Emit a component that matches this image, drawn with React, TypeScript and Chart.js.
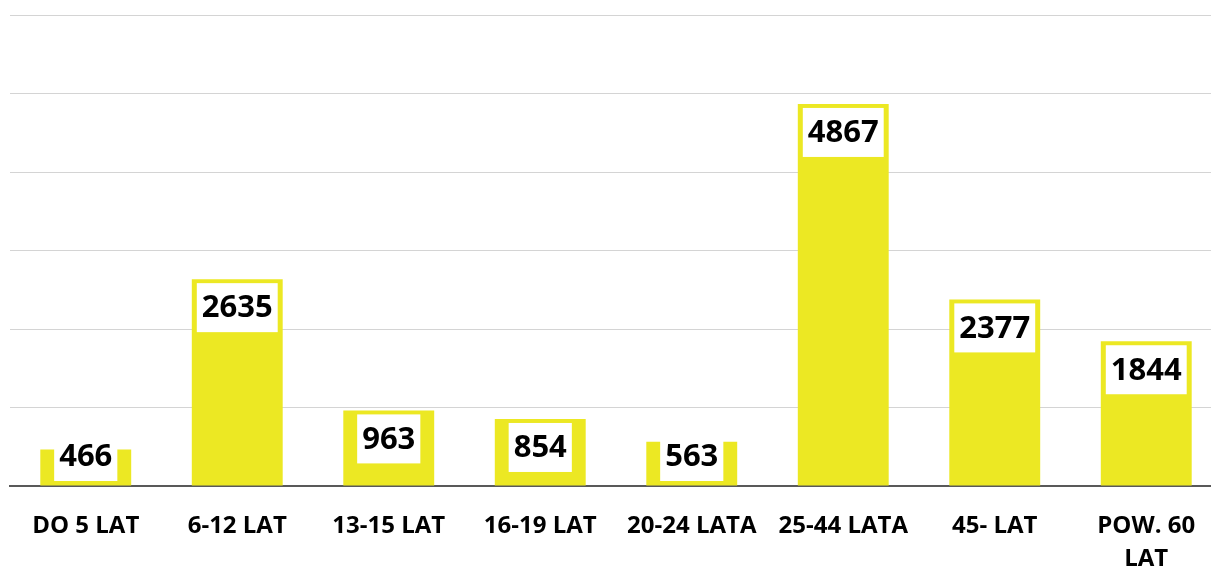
import React, { useEffect, useRef } from "react";
import { Chart, registerables } from "chart.js";

Chart.register(...registerables);

const categories: (string | string[])[] = [
  "DO 5 LAT",
  "6-12 LAT",
  "13-15 LAT",
  "16-19 LAT",
  "20-24 LATA",
  "25-44 LATA",
  "45- LAT",
  ["POW. 60", "LAT"],
];
const values: number[] = [466, 2635, 963, 854, 563, 4867, 2377, 1844];
const yMax = 6000;
const yStep = 1000;

const BAR_COLOR = "#ECE823";
const LABEL_FONT = "bold 31px 'Open Sans', Lato, sans-serif";

const valueBoxPlugin = {
  id: "valueBoxes",
  afterDatasetsDraw(chart: any) {
    const ctx = chart.ctx;
    const meta = chart.getDatasetMeta(0);
    const base = chart.scales.y.getPixelForValue(0);
    ctx.save();
    ctx.font = LABEL_FONT;
    meta.data.forEach((bar: any, i: number) => {
      const text = String(values[i]);
      const tw = ctx.measureText(text).width;
      const w = tw + 10;
      const h = 49;
      let top = bar.y + 4;
      if (top + h > base - 5) top = base - 5 - h;
      const left = bar.x - w / 2;
      ctx.fillStyle = "#ffffff";
      ctx.fillRect(left, top, w, h);
      ctx.fillStyle = "#000000";
      ctx.textAlign = "center";
      ctx.textBaseline = "middle";
      ctx.fillText(text, bar.x, top + h / 2 + 1);
    });
    ctx.restore();
  },
};

export default function App() {
  const ref = useRef<HTMLCanvasElement | null>(null);
  useEffect(() => {
    if (!ref.current) return;
    const chart = new Chart(ref.current, {
      type: "bar",
      data: {
        labels: categories,
        datasets: [
          {
            data: values,
            backgroundColor: BAR_COLOR,
            barPercentage: 0.6,
            categoryPercentage: 1,
          },
        ],
      },
      options: {
        animation: false,
        responsive: true,
        maintainAspectRatio: false,
        layout: { padding: { left: 10, right: 8, top: 15, bottom: 0 } },
        plugins: {
          legend: { display: false },
          tooltip: { enabled: false },
        },
        scales: {
          x: {
            grid: { display: false },
            border: { display: true, color: "#595959", width: 2 },
            ticks: {
              color: "#000000",
              font: { family: "'Open Sans', Lato, sans-serif", weight: "bold", size: 24, lineHeight: 1.375 },
              padding: 16,
              maxRotation: 0,
              autoSkip: false,
            },
          },
          y: {
            min: 0,
            max: yMax,
            ticks: { display: false, stepSize: yStep },
            grid: { color: "#d4d4d4", lineWidth: 1, drawTicks: false },
            border: { display: false },
          },
        },
      },
      plugins: [valueBoxPlugin],
    });
    return () => chart.destroy();
  }, []);
  return (
    <div style={{ position: "fixed", left: 0, top: 0, width: 1211, height: 569, overflow: "hidden", background: "#fff" }}>
      <div style={{ position: "relative", width: 1230, height: 592 }}>
        <canvas ref={ref} />
      </div>
    </div>
  );
}
